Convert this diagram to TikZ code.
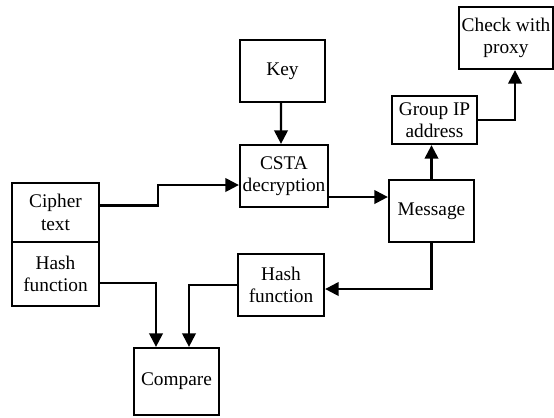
\documentclass[tikz,border=0pt]{standalone}
\usepackage{fontspec}
\setmainfont{Liberation Serif}
\usetikzlibrary{positioning, arrows.meta}

\begin{document}
\begin{tikzpicture}[x=0.02cm, y=-0.02cm,
    font=\rmfamily\fontsize{11}{12.8}\selectfont,
    blk/.style={draw, line width=1.3pt, align=center, inner sep=0pt},
    arr/.style={line width=1.3pt, -{Triangle[length=0.27cm, width=0.27cm]}}]
  \useasboundingbox (0,0) rectangle (554,417);
  % boxes
  \node[blk, minimum width=1.74cm, minimum height=1.18cm] (cipher) at (55.5,212.5) {Cipher\\text};
  \node[blk, minimum width=1.74cm, minimum height=1.28cm] (hashA) at (55.5,274) {Hash\\function};
  \node[blk, minimum width=1.70cm, minimum height=1.24cm] (key) at (282.5,71) {Key};
  \node[blk, minimum width=1.76cm, minimum height=1.24cm] (csta) at (284,176) {CSTA\\decryption};
  \node[blk, minimum width=1.70cm, minimum height=1.24cm] (msg) at (431.5,211) {Message};
  \node[blk, minimum width=1.70cm, minimum height=0.96cm] (group) at (434.5,120) {Group IP\\address};
  \node[blk, minimum width=1.88cm, minimum height=1.24cm] (check) at (506,38) {Check with\\proxy};
  \node[blk, minimum width=1.72cm, minimum height=1.24cm] (hashB) at (281,285) {Hash\\function};
  \node[blk, minimum width=1.70cm, minimum height=1.34cm] (compare) at (176.5,381.5) {Compare};
  % connectors
  \coordinate (rowA) at (0,197);
  \draw[arr] ([yshift=0.14cm]cipher.east) -- ++(58,0) |- ([yshift=-0.18cm]csta.west);
  \draw[arr] ([xshift=-0.03cm]key.south) -- ([xshift=-0.06cm]csta.north);
  \draw[arr] (csta.east |- rowA) -- (msg.west |- rowA);
  \draw[arr] (msg.north) -- (msg.north |- group.south);
  \draw[arr] (group.east) -| ([xshift=0.18cm]check.south);
  \draw[arr] (msg.south) |- ([yshift=-0.08cm]hashB.east);
  \draw[arr] ([yshift=-0.18cm]hashA.east) -| ([xshift=-0.41cm]compare.north);
  \draw[arr] (hashB.west) -| ([xshift=0.25cm]compare.north);
\end{tikzpicture}
\end{document}
